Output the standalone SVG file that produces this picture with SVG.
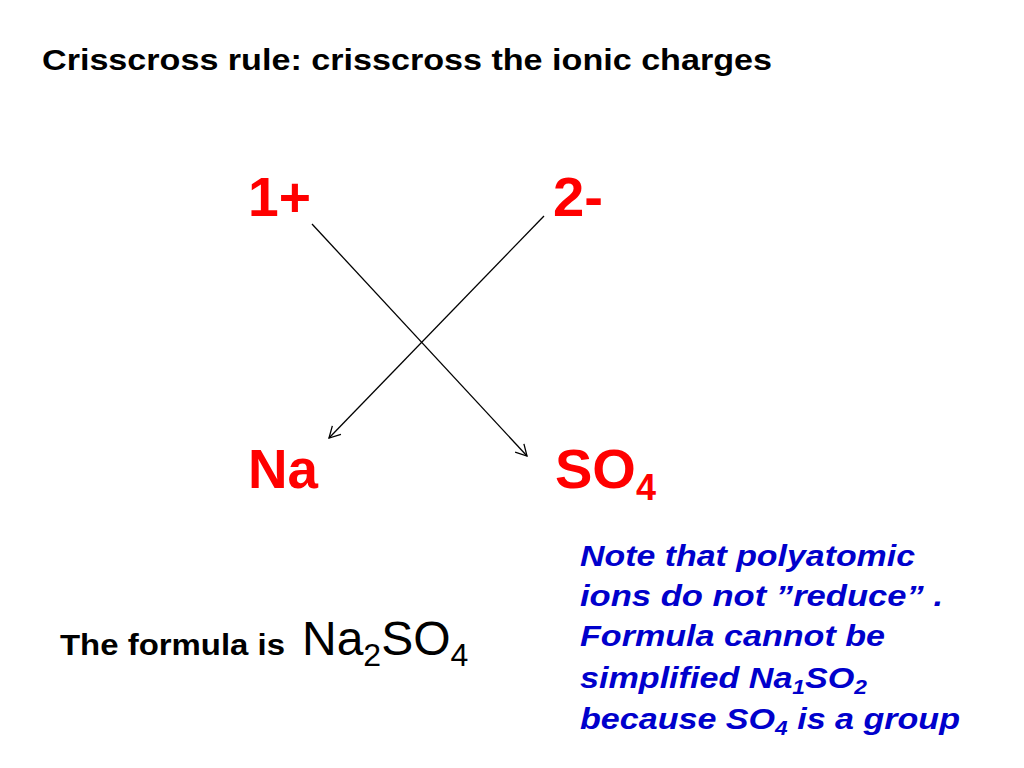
<svg xmlns="http://www.w3.org/2000/svg" width="1024" height="768" viewBox="0 0 1024 768">
<style>
text{font-family:"Liberation Sans",Arial,sans-serif}
.t{font-size:29px;font-weight:bold;fill:#000}
.r{font-size:56px;font-weight:bold;fill:#FF0000}
.b{font-size:30px;font-weight:bold;font-style:italic;fill:#0000CC}
.c{stroke:#000;stroke-width:1.3;fill:none;marker-end:url(#a)}
</style>
<defs><marker id="a" markerWidth="14" markerHeight="14" refX="12" refY="7" orient="auto" markerUnits="userSpaceOnUse"><path d="M1,1 L12,7 L1,13" fill="none" stroke="#000" stroke-width="1.3"/></marker></defs>
<rect width="1024" height="768" fill="#fff"/>
<text class="t" x="42" y="70" textLength="730" lengthAdjust="spacingAndGlyphs">Crisscross rule: crisscross the ionic charges</text>
<g id="c1"><text class="r" x="248" y="216" textLength="63" lengthAdjust="spacingAndGlyphs">1+</text></g>
<g id="c2"><text class="r" x="553" y="216" textLength="50" lengthAdjust="spacingAndGlyphs">2-</text></g>
<g id="na"><text class="r" x="248" y="488" textLength="70" lengthAdjust="spacingAndGlyphs">Na</text></g>
<g id="so4"><text class="r" x="555" y="488">SO<tspan font-size="36" dy="12">4</tspan></text></g>
<g id="connectors">
<line class="c" x1="312" y1="224" x2="527" y2="456"/>
<line class="c" x1="544" y1="216" x2="329" y2="438"/>
</g>
<g id="formula"><text class="t" x="60" y="655" textLength="225" lengthAdjust="spacingAndGlyphs">The formula is</text>
<text x="302" y="655" font-size="48">Na<tspan font-size="32" dy="11">2</tspan><tspan dy="-11">SO</tspan><tspan font-size="32" dy="11">4</tspan></text></g>
<g id="note">
<text class="b" x="580" y="566" textLength="335" lengthAdjust="spacingAndGlyphs">Note that polyatomic</text>
<text class="b" x="580" y="606" textLength="363" lengthAdjust="spacingAndGlyphs">ions do not ”reduce” .</text>
<text class="b" x="580" y="646" textLength="305" lengthAdjust="spacingAndGlyphs">Formula cannot be</text>
<text class="b" x="580" y="688" textLength="287" lengthAdjust="spacingAndGlyphs">simplified Na<tspan font-size="20" dy="6">1</tspan><tspan dy="-6">SO</tspan><tspan font-size="20" dy="6">2</tspan></text>
<text class="b" x="580" y="729" textLength="380" lengthAdjust="spacingAndGlyphs">because SO<tspan font-size="20" dy="6">4</tspan><tspan dy="-6"> is a group</tspan></text>
</g>
</svg>
